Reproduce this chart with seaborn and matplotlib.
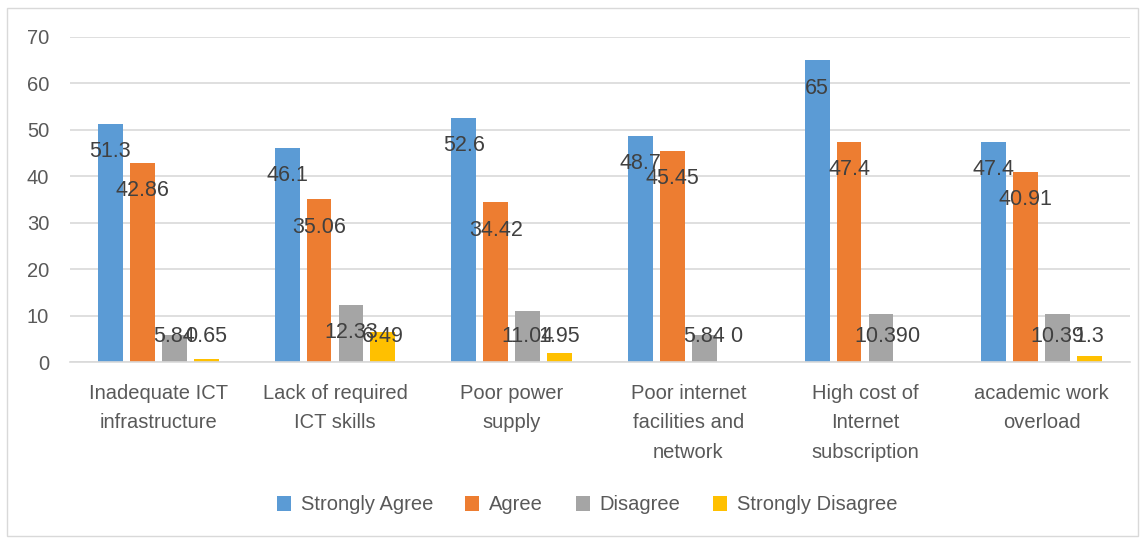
import matplotlib
matplotlib.use("Agg")
import matplotlib.pyplot as plt
import seaborn as sns
import pandas as pd
from matplotlib.patches import Rectangle

categories = ["Inadequate ICT\ninfrastructure", "Lack of required\nICT skills", "Poor power\nsupply",
              "Poor internet\nfacilities and\nnetwork", "High cost of\nInternet\nsubscription",
              "academic work\noverload"]
series = ["Strongly Agree", "Agree", "Disagree", "Strongly Disagree"]
strongly_agree = [51.3, 46.1, 52.6, 48.7, 65, 47.4]
agree = [42.86, 35.06, 34.42, 45.45, 47.4, 40.91]
disagree = [5.84, 12.33, 11.04, 5.84, 10.39, 10.39]
strongly_disagree = [0.65, 6.49, 1.95, 0, 0, 1.3]
label_text = [
    ["51.3", "46.1", "52.6", "48.7", "65", "47.4"],
    ["42.86", "35.06", "34.42", "45.45", "47.4", "40.91"],
    ["5.84", "12.33", "11.04", "5.84", "10.39", "10.39"],
    ["0.65", "6.49", "1.95", "0", "0", "1.3"],
]
yticks = [0, 10, 20, 30, 40, 50, 60, 70]
colors = ["#5B9BD5", "#ED7D31", "#A5A5A5", "#FFC000"]

values = [strongly_agree, agree, disagree, strongly_disagree]
rows = []
for s, vals in zip(series, values):
    for c, v in zip(categories, vals):
        rows.append({"cat": c, "series": s, "value": v})
df = pd.DataFrame(rows)

sns.set_style("white")
plt.rcParams["font.family"] = ["Liberation Sans", "DejaVu Sans"]
TXT = "#595959"

fig = plt.figure(figsize=(11.45, 5.38), dpi=100)
ax = fig.add_axes([70/1145, 1-362/538, 1060/1145, 325/538])

sns.barplot(data=df, x="cat", y="value", hue="series", palette=colors, hue_order=series,
            order=categories, width=0.724, gap=0.22, saturation=1, ax=ax, legend=True,
            edgecolor="none", linewidth=0)

ax.set_ylim(0, 70)
ax.set_yticks(yticks)
ax.set_xlim(-0.5, len(categories) - 0.5)
ax.grid(axis="y", color="#D9D9D9", linewidth=1.2)
ax.set_axisbelow(True)
for sp in ["top", "right", "left"]:
    ax.spines[sp].set_visible(False)
ax.spines["bottom"].set_color("#D9D9D9")
ax.spines["bottom"].set_linewidth(1.2)
ax.set_xlabel("")
ax.set_ylabel("")
ax.tick_params(axis="y", length=0, pad=15, labelsize=14.5, labelcolor=TXT)
ax.tick_params(axis="x", length=0, pad=16, labelsize=14.5, labelcolor=TXT)
for t in ax.get_xticklabels():
    t.set_linespacing(1.68)

for cont, texts in zip(ax.containers, label_text):
    for bar, txt in zip(cont, texts):
        h = bar.get_height()
        xc = bar.get_x() + bar.get_width() / 2
        ax.text(xc, max(h - 6.0, 5.4), txt, ha="center", va="center",
                fontsize=15.5, color="#404040")

handles, labels = ax.get_legend_handles_labels()
ax.get_legend().remove()
fig.legend(handles, labels, loc="center", bbox_to_anchor=(587/1145, 1-505/538), ncol=4,
           frameon=False, fontsize=14.5, labelcolor=TXT, handlelength=0.7, handleheight=0.7,
           handletextpad=0.5, columnspacing=1.6)

fig.patches.append(Rectangle((7/1145, 1-536/538), 1131/1145, 528/538, transform=fig.transFigure,
                             fill=False, edgecolor="#D9D9D9", linewidth=1))

fig.savefig("out.png", dpi=100)
